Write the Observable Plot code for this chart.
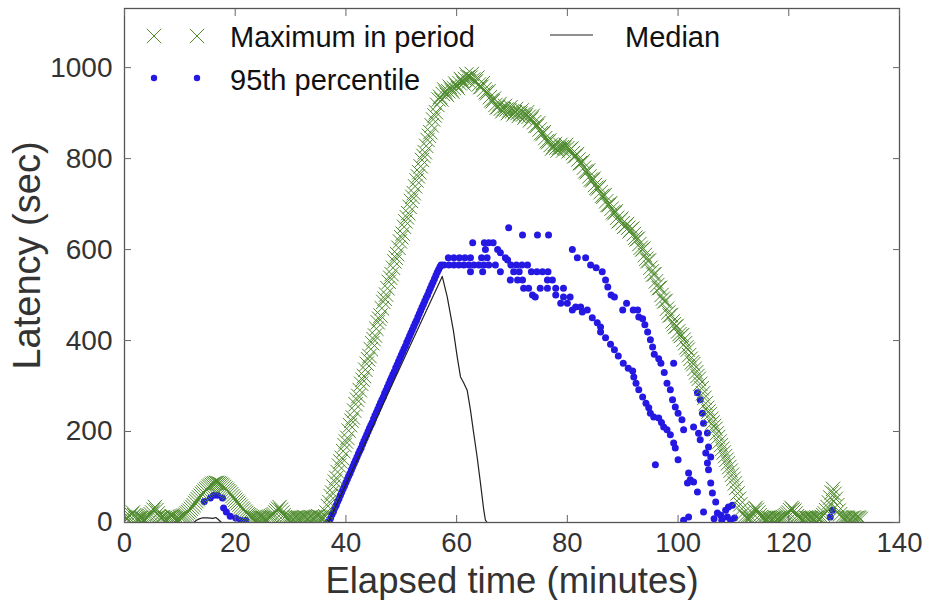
<!DOCTYPE html>
<html><head><meta charset="utf-8">
<script src="https://cdn.jsdelivr.net/npm/d3@7"></script>
<script src="https://cdn.jsdelivr.net/npm/@observablehq/plot@0.6"></script>
<style>
body{margin:0;background:#fff;}
#chart{width:928px;height:600px;}
</style>
</head><body><div id="chart"></div>
<script>
// ---- data (minutes, latency seconds) ----
const xTicks = [0, 20, 40, 60, 80, 100, 120, 140];
const yTicks = [0, 200, 400, 600, 800, 1000];
const seriesNames = ["Maximum in period", "95th percentile", "Median"];
const xTitle = "Elapsed time (minutes)";
const yTitle = "Latency (sec)";

// Maximum in period: one sample every 0.25 min starting at 0
const maxStart = 0, maxStep = 0.25;
const maxValues = [
12,10,9,11,14,18,22,16,13,9,8,10,10,9,8,9,11,13,15,18,
22,28,34,27,20,14,10,11,12,10,8,9,10,11,13,12,10,9,8,9,
12,13,14,15,17,20,23,26,30,34,38,43,47,51,55,59,63,66,70,73,
76,79,81,83,85,86,87,87,86,85,83,81,78,75,72,69,66,62,58,54,
50,46,43,39,35,31,28,24,21,18,16,14,12,11,10,9,9,10,11,10,
10,9,8,9,12,13,14,16,18,22,26,30,34,28,22,16,12,10,9,9,
10,9,8,10,11,10,9,10,10,11,12,11,9,10,11,12,10,11,12,13,
14,12,11,10,10,14,22,36,45,58,66,79,90,98,111,125,134,142,157,170,
178,186,202,214,224,231,246,260,270,278,291,305,314,322,336,349,359,366,381,394,
403,411,426,440,448,455,471,485,492,501,515,529,538,546,560,574,582,590,604,618,
627,635,650,662,671,680,694,707,716,724,739,752,761,770,783,797,806,814,828,841,
850,858,873,886,895,902,918,930,936,930,942,952,946,940,948,958,952,947,955,965,
960,955,966,975,971,965,975,985,979,970,978,986,974,968,970,978,963,957,958,966,
952,946,944,948,935,928,926,932,918,912,914,920,910,904,909,916,908,900,906,913,
904,897,902,909,900,894,899,906,897,890,895,902,892,884,888,894,880,872,872,878,
864,856,854,858,845,838,836,840,830,822,826,832,824,818,824,830,825,818,824,830,
823,816,820,822,812,805,806,810,798,790,790,794,780,772,770,774,761,754,752,756,
742,736,734,738,726,718,716,720,706,698,698,702,690,682,680,684,670,662,664,668,
658,650,652,656,648,640,644,646,634,626,622,624,612,604,600,602,588,580,575,576,
560,552,545,546,530,522,515,516,500,492,486,487,470,462,455,456,442,436,430,432,
420,414,410,412,402,394,385,380,368,360,352,348,338,330,322,316,305,295,284,274,
262,252,244,238,228,220,212,206,196,188,178,170,162,154,146,138,130,122,114,105,
96,86,76,64,52,40,30,20,14,11,10,9,9,12,20,27,32,28,22,16,
12,10,10,9,9,10,10,9,8,9,11,10,9,10,10,11,12,14,16,19,
22,27,32,29,26,20,14,11,10,9,8,9,11,10,9,10,10,9,8,9,
11,10,9,10,12,16,20,27,34,44,55,66,74,63,52,38,26,18,12,10,
9,10,11,10,8,9,10,11,9,10,11,10,8
];

// 95th percentile: the straight climb, one sample every 0.25 min from 36.75
const riseStart = 36.75, riseStep = 0.25;
const riseValues = [
0,
4,10,18,24, 32,38,46,52, 60,67,74,81, 88,95,102,108, 116,123,130,137,
144,151,158,164, 172,179,186,193, 200,207,214,220, 228,235,242,249, 256,263,270,276,
284,291,298,305, 312,319,326,332, 340,347,354,361, 368,375,382,388, 396,403,410,417,
424,431,438,444, 452,459,466,473, 480,487,494,500, 508,515,522,529, 536,543,550,556,
562
];
// 95th percentile: remaining scattered samples [minute, seconds]
const p95Other = [
[14.4,46],[15.5,54],[16.1,60],[16.8,60],[17.7,54],[17.9,32],[18.4,23],[19.1,14],[20.1,10],[21,5],[21.9,5],
[57.2,566],[57.7,566],[58.6,566],[59.5,566],[60.4,566],[61.3,566],[62.2,566],[63.1,566],[64,566],[64.9,566],[65.8,566],[67,566],
[58.5,582],[59.5,582],[60.5,582],[61.5,582],[62.5,582],[64.5,582],[65.5,582],[68.8,582],
[62.5,551],[64.7,551],
[65,615],[65.8,615],[66.6,615],[67.4,600],[65.2,600],[62.9,615],[69.4,648],[71.9,632],[74.6,632],[76.6,632],
[67.9,593],[69.2,577],
[69.8,566],[70.8,566],[71.8,566],[72.8,566],
[67.9,551],[70.3,551],[71.3,551],[73.5,551],[74.5,551],[75.5,551],[76.5,551],
[69.7,533],[71,533],[71.9,533],[76.4,533],[77.3,533],
[72.1,515],[73,515],[75.1,515],[76.4,515],[77.9,515],[79.3,515],
[73.7,500],[74.2,496],[77.9,500],[79.3,496],[80.5,496],
[78.8,482],[80,482],[81.5,474],[82.4,474],[80.9,467],[82.7,463],[83.6,467],
[84.5,450],[85.4,439],[86,430],[86,419],[86.9,406],[87.8,392],[88.5,380],[89.2,366],[90.1,350],[91,339],[91.8,333],[92,320],[92.4,306],[92.9,292],[93.6,276],[94.2,262],[94.7,252],[95,240],[95.6,232],[96.5,230],[97,220],[97.4,210],[98,204],[98.6,193],[99.2,175],[99.5,164],[100,138],[95.9,127],[101.9,109],[102.2,94],[101.7,87],[102.8,89],[103.5,67],[101.9,12],[101,5],[104.6,23],
[80.9,600],[81.8,582],[83.3,582],[84.2,566],[85.2,560],[86.3,551],[86.9,533],[87.3,518],[87.9,500],[88.5,496],[90,467],[90.7,482],[91.9,467],[92.7,467],[92.9,452],[93.6,448],[94,435],[94.5,419],[95,402],[95.4,386],[95.7,370],[96.5,360],[96.9,350],[97.5,330],[98,306],[98.6,292],[99,270],[99.5,254],[100,240],[100.7,226],[101,204],[99.2,350],[102.8,210],[103.7,196],[104,182],[105,153],[105.3,131],[105.5,116],[105.9,87],[106.2,65],[106.8,45],[107.1,21],[107.7,16],[108.6,27],[109.1,34],[109.8,38],[108.9,12],[107.9,5],[106.5,8],[109.5,5],[110.2,10],
[103.5,285],[104,270],[104.4,240],[104.6,218],[105.3,197],[105.5,166],[105.9,144],
[127.5,12],[127.9,27]
];

const median = [
[0,0],[12.5,0],[13,5],[13.5,8],[14,10],[15,10],[16,9],[16.5,11],[17,6],[17.5,0],
[36.8,0],[40,84],[45,215],[50,347],[55,478],[57.4,541],[58.3,496],[59.4,423],[60.1,364],[60.7,320],[61.2,309],[61.9,291],[62.5,247],[63,203],[63.7,144],[64.3,87],[64.9,27],[65.2,5],[65.5,0],[133,0]
];

const maxInPeriod = maxValues.map((v, i) => [maxStart + i * maxStep, v]);
const percentile95 = riseValues.map((v, i) => [riseStart + i * riseStep, v]).concat(p95Other);

// ---- style ----
const GREEN = "#4c8a2b", BLUE = "#2418e2", INK = "#333";
const FONT = "'Liberation Sans', Arial, Helvetica, sans-serif";
const px = d => d[0], py = d => d[1];

const chart = Plot.plot({
  width: 928, height: 600,
  marginLeft: 124, marginRight: 29, marginTop: 8, marginBottom: 78,
  style: {fontFamily: FONT, background: "white", color: INK},
  x: {domain: [0, 140]},
  y: {domain: [0, 1130]},
  marks: [
    Plot.dot(percentile95, {x: px, y: py, r: 3.5, fill: BLUE, clip: true}),
    Plot.dot(maxInPeriod, {x: px, y: py, symbol: "times", r: 6.6, stroke: GREEN, strokeWidth: 1, clip: true}),
    Plot.line(median, {x: px, y: py, stroke: "#222", strokeWidth: 1.2}),
    Plot.frame({stroke: "#555", strokeWidth: 1.3}),
    Plot.axisX({ticks: xTicks, anchor: "bottom", tickSize: -7, tickFormat: () => "", label: null, stroke: "#666"}),
    Plot.axisX({ticks: xTicks, anchor: "top", tickSize: -7, tickFormat: () => "", label: null, stroke: "#666"}),
    Plot.axisY({ticks: yTicks, anchor: "left", tickSize: -7, tickFormat: () => "", label: null, stroke: "#666"}),
    Plot.axisY({ticks: yTicks, anchor: "right", tickSize: -7, tickFormat: () => "", label: null, stroke: "#666"}),
    Plot.axisX({ticks: xTicks, anchor: "bottom", tickSize: 0, tickPadding: 10, tickFormat: d => String(d), fontSize: 27.5, label: null, fill: INK}),
    Plot.axisY({ticks: yTicks, anchor: "left", tickSize: 0, tickPadding: 12, tickFormat: d => String(d), fontSize: 28, label: null, fill: INK}),
    Plot.text([xTitle], {frameAnchor: "bottom", textAnchor: "middle", lineAnchor: "bottom", dy: 70, fontSize: 36.5, fill: INK}),
    Plot.text([yTitle], {frameAnchor: "left", textAnchor: "middle", lineAnchor: "bottom", rotate: -90, dx: -85, dy: -10, fontSize: 38, fill: INK})
  ]
});
document.getElementById("chart").appendChild(chart);

const svg = d3.select(chart);
// drop the empty label texts of the tick-only axes
svg.selectAll("text").filter(function() { return this.textContent === ""; }).remove();

// ---- legend (inside the frame, top) ----
const lg = svg.append("g").attr("font-family", FONT).attr("font-size", 29)
  .attr("fill", "#111").attr("text-anchor", "start");
const timesPath = d3.symbol(d3.symbolTimes, Math.PI * 6.6 * 6.6)();
lg.selectAll("path.lx").data([154, 197]).join("path").attr("class", "lx")
  .attr("d", timesPath).attr("transform", x => `translate(${x},36)`)
  .attr("fill", "none").attr("stroke", GREEN).attr("stroke-width", 1);
lg.selectAll("circle.lb").data([154, 197]).join("circle").attr("class", "lb")
  .attr("cx", x => x).attr("cy", 78).attr("r", 3.2).attr("fill", BLUE);
lg.append("line").attr("x1", 550).attr("x2", 593).attr("y1", 35).attr("y2", 35)
  .attr("stroke", "#222").attr("stroke-width", 1.2);
lg.append("text").attr("x", 230).attr("y", 47).text(seriesNames[0]);
lg.append("text").attr("x", 230).attr("y", 90).text(seriesNames[1]);
lg.append("text").attr("x", 625).attr("y", 47).text(seriesNames[2]);
</script>
</body></html>
